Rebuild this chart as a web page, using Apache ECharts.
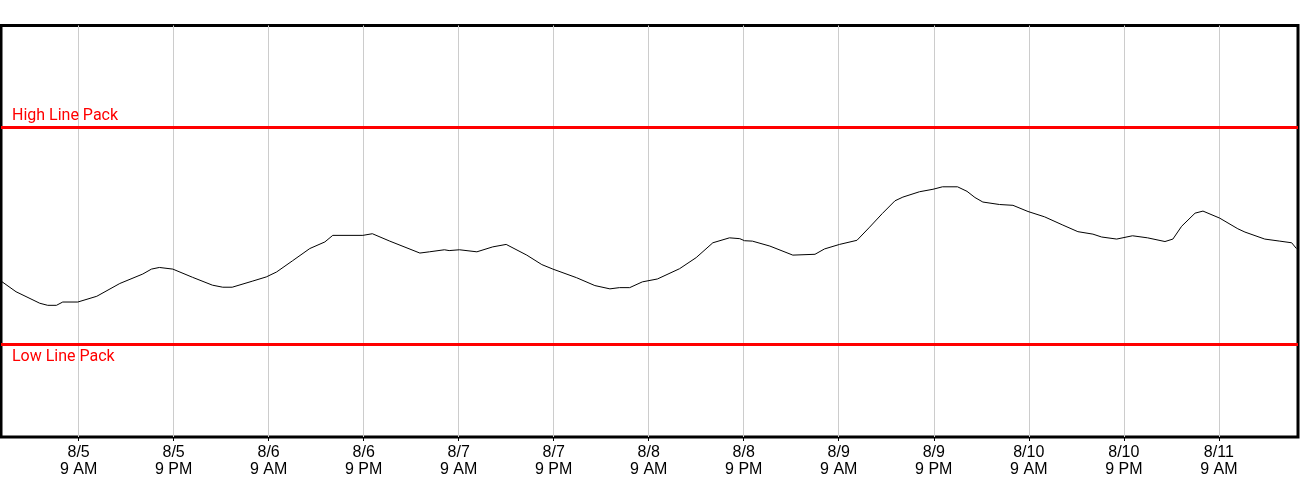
<!DOCTYPE html>
<html>
<head>
<meta charset="utf-8">
<script src="https://cdn.jsdelivr.net/npm/echarts@6/dist/echarts.min.js"></script>
<style>
html,body{margin:0;padding:0;background:#fff;}
#chart{width:1300px;height:500px;}
</style>
</head>
<body>
<div id="chart"></div>
<script>
// Hours elapsed since 8/4 11 PM
var hours = [0.2,2.1,5.1,6.1,7.2,8.0,9.9,12.3,15.2,18.1,19.2,20.2,21.9,24.4,26.9,28.2,29.4,32.0,33.7,35.0,37.0,39.2,41.1,42.1,45.9,47.1,49.3,53.1,54.3,56.2,56.8,58.1,60.3,62.3,64.0,66.6,68.5,69.9,72.9,75.2,77.1,78.3,79.6,81.2,83.1,85.9,88.0,90.1,92.2,93.5,94.1,95.1,97.3,100.2,103.0,104.2,106.1,108.3,109.9,111.5,113.1,114.1,116.2,117.9,119.1,121.0,122.2,123.2,124.2,126.3,128.0,129.9,132.0,134.3,136.2,138.1,139.2,141.1,143.1,145.0,147.2,148.2,149.3,151.0,152.0,154.1,156.4,157.3,159.8,161.7,163.2,163.8];
var linePack = [37.9,35.3,32.5,32.0,32.0,32.8,32.8,34.2,37.3,39.6,40.8,41.2,40.8,38.8,36.9,36.4,36.4,37.9,38.9,40.1,42.8,45.8,47.4,49.0,49.0,49.4,47.6,44.7,45.0,45.5,45.3,45.5,45.0,46.2,46.8,44.2,41.9,40.8,38.7,36.8,36.0,36.3,36.3,37.7,38.4,40.9,43.6,47.2,48.4,48.2,47.7,47.6,46.4,44.2,44.4,45.7,46.8,47.8,51.0,54.3,57.4,58.3,59.6,60.2,60.8,60.8,59.7,58.2,57.1,56.5,56.3,54.8,53.5,51.5,49.9,49.3,48.6,48.1,48.9,48.4,47.5,48.1,51.2,54.4,54.9,53.2,50.6,49.8,48.1,47.6,47.2,45.8];
var tickHours = [10,22,34,46,58,70,82,94,106,118,130,142,154];
var tickLabels = ['8/5\n9 AM','8/5\n9 PM','8/6\n9 AM','8/6\n9 PM','8/7\n9 AM','8/7\n9 PM','8/8\n9 AM','8/8\n9 PM','8/9\n9 AM','8/9\n9 PM','8/10\n9 AM','8/10\n9 PM','8/11\n9 AM'];
var highLinePack = 75.2;
var lowLinePack = 22.6;

var seriesData = hours.map(function(h, i){ return [h, linePack[i]]; });

var chart = echarts.init(document.getElementById('chart'));
chart.setOption({
  animation: false,
  backgroundColor: '#fff',
  grid: {
    left: 1, right: 2, top: 25.5, bottom: 63,
    show: true, borderColor: '#000', borderWidth: 3,
    containLabel: false, outerBoundsMode: 'none'
  },
  xAxis: {
    type: 'value', min: 0.2, max: 164,
    axisLine: {show: false},
    axisTick: {show: true, customValues: tickHours, length: 4, lineStyle: {color: '#000', width: 1}},
    axisLabel: {
      customValues: tickHours,
      color: '#000', fontFamily: 'Liberation Sans, Arial', fontSize: 16, lineHeight: 17, margin: 7,
      formatter: function(v){ var i = tickHours.indexOf(v); return i >= 0 ? tickLabels[i] : ''; }
    },
    splitLine: {show: true, lineStyle: {color: '#cccccc', width: 1}}
  },
  yAxis: {
    type: 'value', min: 0, max: 100, show: false,
    splitLine: {show: false}
  },
  series: [{
    type: 'line',
    data: seriesData,
    symbol: 'none',
    lineStyle: {color: '#000', width: 1},
    itemStyle: {color: '#000'},
    markLine: {
      silent: true,
      symbol: 'none',
      lineStyle: {type: 'solid', color: '#ff0000', width: 3},
      data: [
        {yAxis: highLinePack, name: 'High Line Pack',
          label: {show: true, position: 'insideStartTop', formatter: 'High Line Pack', color: '#ff0000', fontFamily: 'Roboto', fontSize: 16, distance: [11, 4]}},
        {yAxis: lowLinePack, name: 'Low Line Pack',
          label: {show: true, position: 'insideStartBottom', formatter: 'Low Line Pack', color: '#ff0000', fontFamily: 'Roboto', fontSize: 16, distance: [11, 5]}}
      ]
    }
  }]
});
</script>
</body>
</html>
